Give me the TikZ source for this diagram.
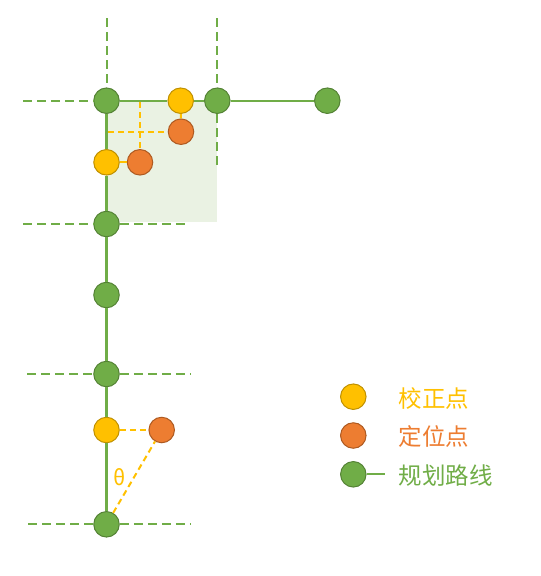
\documentclass[tikz,border=0pt]{standalone}
\usepackage{fontspec}
\newfontfamily\cjk{Noto Sans CJK SC}
\definecolor{routegreen}{HTML}{70AD47}
\definecolor{routegreendark}{HTML}{548235}
\definecolor{fixyellow}{HTML}{FFC000}
\definecolor{fixyellowdark}{HTML}{BF9000}
\definecolor{posorange}{HTML}{ED7D31}
\definecolor{posorangedark}{HTML}{AE5A21}
\definecolor{zonefill}{HTML}{EAF2E3}
\begin{document}
\begin{tikzpicture}[x=1pt,y=-1pt,
  dot/.style={circle,minimum size=25.5pt,inner sep=0pt,line width=1pt},
  gdot/.style={dot,fill=routegreen,draw=routegreendark},
  ydot/.style={dot,fill=fixyellow,draw=fixyellowdark},
  odot/.style={dot,fill=posorange,draw=posorangedark},
  route/.style={routegreen,line width=2.2pt},
  gridline/.style={routegreen,dash pattern=on 9pt off 5pt,line width=2pt},
  aux/.style={fixyellow,dash pattern=on 6pt off 4pt,line width=2pt},
  legend/.style={anchor=west,font=\cjk\fontsize{23.5}{26}\selectfont}]
  \useasboundingbox (0,0) rectangle (541,576);

% shaded corner zone
\fill[zonefill] (106.5,100.7) rectangle (217.3,222);

% route points
\node[gdot] (g1) at (106.5,100.7) {};
\node[ydot] (y1) at (180.7,100.7) {};
\node[gdot] (g2) at (217.3,100.7) {};
\node[gdot] (g3) at (327.3,100.7) {};
\node[odot] (o1) at (181,131.7) {};
\node[ydot] (y2) at (106.5,162.3) {};
\node[odot] (o2) at (140,162.3) {};
\node[gdot] (g4) at (106.5,224) {};
\node[gdot] (g5) at (106.5,295) {};
\node[gdot] (g6) at (106.5,374) {};
\node[ydot] (y3) at (106.5,430) {};
\node[odot] (o3) at (161.7,430) {};
\node[gdot] (g7) at (106.5,524.3) {};

% planned route
\draw[route] (g1)--(y1)--(g2)--(g3);
\draw[route] (g1)--(y2)--(g4)--(g5)--(g6)--(y3)--(g7);

% grid lines
\coordinate (t1) at (106.5,18);
\coordinate (t2) at (217.3,18);
\coordinate (b2) at (217.3,167);
\coordinate (l1) at (23,100.7);
\coordinate (l4) at (23,224);
\coordinate (r4) at (185,224);
\coordinate (l6) at (27,374);
\coordinate (r6) at (190,374);
\coordinate (l7) at (28,524.3);
\coordinate (r7) at (190,524.3);
\draw[gridline] (t1)--(g1.north);
\draw[gridline] (l1)--(g1.west);
\draw[gridline] (t2)--(g2.north);
\draw[gridline] (g2.south)--(b2);
\draw[gridline] (l4)--(g4.west);
\draw[gridline] (g4.east)--(r4);
\draw[gridline] (l6)--(g6.west);
\draw[gridline] (g6.east)--(r6);
\draw[gridline] (l7)--(g7.west);
\draw[gridline] (g7.east)--(r7);

% correction links
\coordinate (a1) at (140,102);
\coordinate (a2) at (108,131.7);
\draw[fixyellow,line width=2pt] (y1)--(o1);
\draw[fixyellow,line width=2pt] (y2)--(o2);
\draw[aux] (a1)--(o2);
\draw[aux] (a2)--(o1);
\draw[aux] (y3)--(o3);
\draw[aux] (g7)--(o3);
\node[fixyellow,font=\cjk\fontsize{21}{23}\selectfont] (th) at (119.5,476.7) {θ};

% legend
\node[ydot] (ly) at (353.3,396.7) {};
\node[odot] (lo) at (353.3,435.5) {};
\node[gdot] (lg) at (353.3,474.3) {};
\coordinate (lgend) at (385,474.3);
\draw[route] (lg)--(lgend);
\node[legend,text=fixyellow] (ty) at (395,399) {校正点};
\node[legend,text=posorange] (to) at (395,436.5) {定位点};
\node[legend,text=routegreen] (tg) at (395,475.5) {规划路线};

\end{tikzpicture}
\end{document}
